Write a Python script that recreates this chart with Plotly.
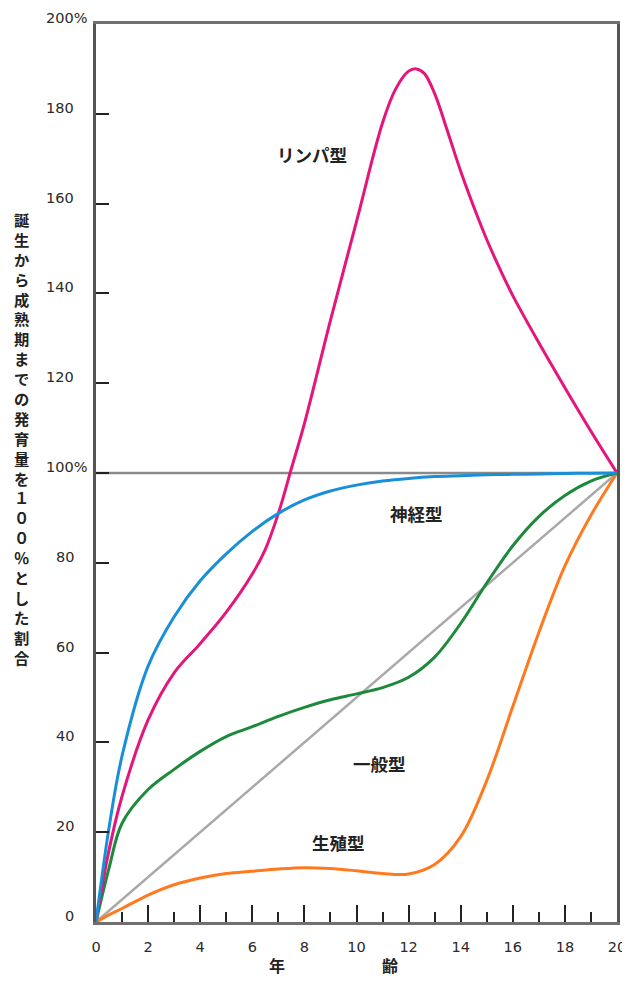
import plotly.graph_objects as go

# ---- data ----
ages = [0, 0.5, 1, 2, 3, 4, 5, 6, 7, 8, 9, 10, 11, 12, 13, 14, 15, 16, 17, 18, 19, 20]

lymphoid_ages = [0, 0.5, 1, 2, 3, 4, 5, 6, 6.5, 7, 7.5, 8, 9, 10, 11, 11.5, 12, 12.3, 12.6, 13, 13.5, 14, 14.5, 15, 15.5, 16, 17, 18, 19, 20]
lymphoid = [0, 16, 28, 45, 55.5, 62, 69, 77.5, 83, 91, 101, 111, 134, 156, 178, 185.5, 189.5, 190, 189, 184.5, 176, 167.2, 159.3, 152, 145.5, 139.5, 129, 119, 109.3, 100]
neural = [0, 21, 37, 57, 68, 76, 82, 87, 91, 94, 96, 97.3, 98.2, 98.8, 99.2, 99.4, 99.6, 99.7, 99.8, 99.9, 99.95, 100]
general = [0, 12, 22, 29.5, 34, 38, 41.3, 43.5, 45.8, 47.8, 49.5, 50.8, 52.2, 54.5, 59, 66.5, 75.5, 83.8, 90.3, 95, 98.2, 100]
reproductive = [0, 1.6, 3, 6, 8.3, 9.8, 10.8, 11.3, 11.8, 12.1, 11.9, 11.4, 10.8, 10.7, 12.8, 19, 31.5, 48, 64.5, 79.3, 90.6, 100]
reference_x = [0, 20]
reference_y = [0, 100]

series_names = ["リンパ型", "神経型", "一般型", "生殖型"]
label_x = [8.3, 12.3, 10.9, 9.3]
label_y = [171, 91, 35.4, 17.8]

x_tick_vals = [0, 2, 4, 6, 8, 10, 12, 14, 16, 18, 20]
y_tick_vals = [0, 20, 40, 60, 80, 100, 120, 140, 160, 180, 200]
y_tick_text = ["0", "20", "40", "60", "80", "100%", "120", "140", "160", "180", "200%"]

y_title = "誕生から成熟期までの発育量を１００％とした割合"
x_title_chars = ["年", "齢"]
x_title_pos = [6.95, 11.3]

# ---- figure ----
fig = go.Figure()

fig.add_trace(go.Scatter(x=reference_x, y=reference_y, mode="lines",
                         line=dict(color="#a9a9a9", width=2.5), hoverinfo="skip"))
fig.add_trace(go.Scatter(x=ages, y=reproductive, mode="lines", name="生殖型",
                         line=dict(color="#ff7a1f", width=3, shape="spline", smoothing=1)))
fig.add_trace(go.Scatter(x=ages, y=general, mode="lines", name="一般型",
                         line=dict(color="#1c8a3a", width=3, shape="spline", smoothing=1)))
fig.add_trace(go.Scatter(x=lymphoid_ages, y=lymphoid, mode="lines", name="リンパ型",
                         line=dict(color="#e4167b", width=3, shape="spline", smoothing=1)))
fig.add_trace(go.Scatter(x=ages, y=neural, mode="lines", name="神経型",
                         line=dict(color="#1a8fd9", width=3, shape="spline", smoothing=1)))

# 100% reference line
fig.add_shape(type="line", xref="x", yref="y", x0=0, x1=20, y0=100, y1=100,
              line=dict(color="#8a8a8a", width=2.5), layer="below")

num_font = dict(family="DejaVu Sans, sans-serif", size=14.5, color="#2a2a2a")
jp_font = dict(family="Noto Sans CJK JP", size=17.5, color="#222222", weight="bold")

annotations = []
# y tick labels (numbers right-aligned, % sticking out)
for v, t in zip(y_tick_vals, y_tick_text):
    if t.endswith("%"):
        annotations.append(dict(x=0, xref="paper", y=v, yref="y", text=t, showarrow=False,
                                xanchor="left", yanchor="middle", xshift=-52, yshift=6, font=num_font))
    else:
        annotations.append(dict(x=0, xref="paper", y=v, yref="y", text=t, showarrow=False,
                                xanchor="right", yanchor="middle", xshift=-20, yshift=6, font=num_font))

# curve labels
for name, lx, ly in zip(series_names, label_x, label_y):
    annotations.append(dict(x=lx, y=ly, xref="x", yref="y", text=name, showarrow=False,
                            font=jp_font, xanchor="center", yanchor="middle"))

# vertical y title
annotations.append(dict(x=0, xref="paper", y=(922 - 206) / 898, yref="paper",
                        text="<br>".join(list(y_title)),
                        showarrow=False, xanchor="center", yanchor="top", xshift=-74,
                        font=dict(family="Noto Sans CJK JP", size=15.3, color="#222222", weight="bold")))

# x title
for ch, px in zip(x_title_chars, x_title_pos):
    annotations.append(dict(x=px, xref="x", y=(922 - 965) / 898, yref="paper", text=ch,
                            showarrow=False, xanchor="center", yanchor="middle",
                            font=dict(family="Noto Sans CJK JP", size=16, color="#222222", weight="bold")))

# page body has an 8px margin, so margins are offset to land the plot area correctly
fig.update_layout(
    width=630, height=981,
    margin=dict(l=88, r=19, t=16, b=67),
    paper_bgcolor="white", plot_bgcolor="white",
    showlegend=False,
    annotations=annotations,
)

fig.update_xaxes(
    range=[0, 20], tickvals=x_tick_vals, ticks="inside", ticklen=17, tickwidth=1.5,
    tickcolor="#222222", showgrid=False, zeroline=False,
    showline=True, linecolor="#707070", linewidth=2.5, mirror=True,
    tickfont=num_font, ticklabelstandoff=10,
    minor=dict(dtick=1, tick0=0, ticks="inside", ticklen=10, tickwidth=1.5, tickcolor="#222222"),
)
fig.update_yaxes(
    range=[0, 200], tickvals=y_tick_vals, ticks="inside", ticklen=13, tickwidth=1.5,
    tickcolor="#222222", showticklabels=False, showgrid=False, zeroline=False,
    showline=True, linecolor="#555555", linewidth=2.5, mirror=True,
)

fig.write_html("out.html")
